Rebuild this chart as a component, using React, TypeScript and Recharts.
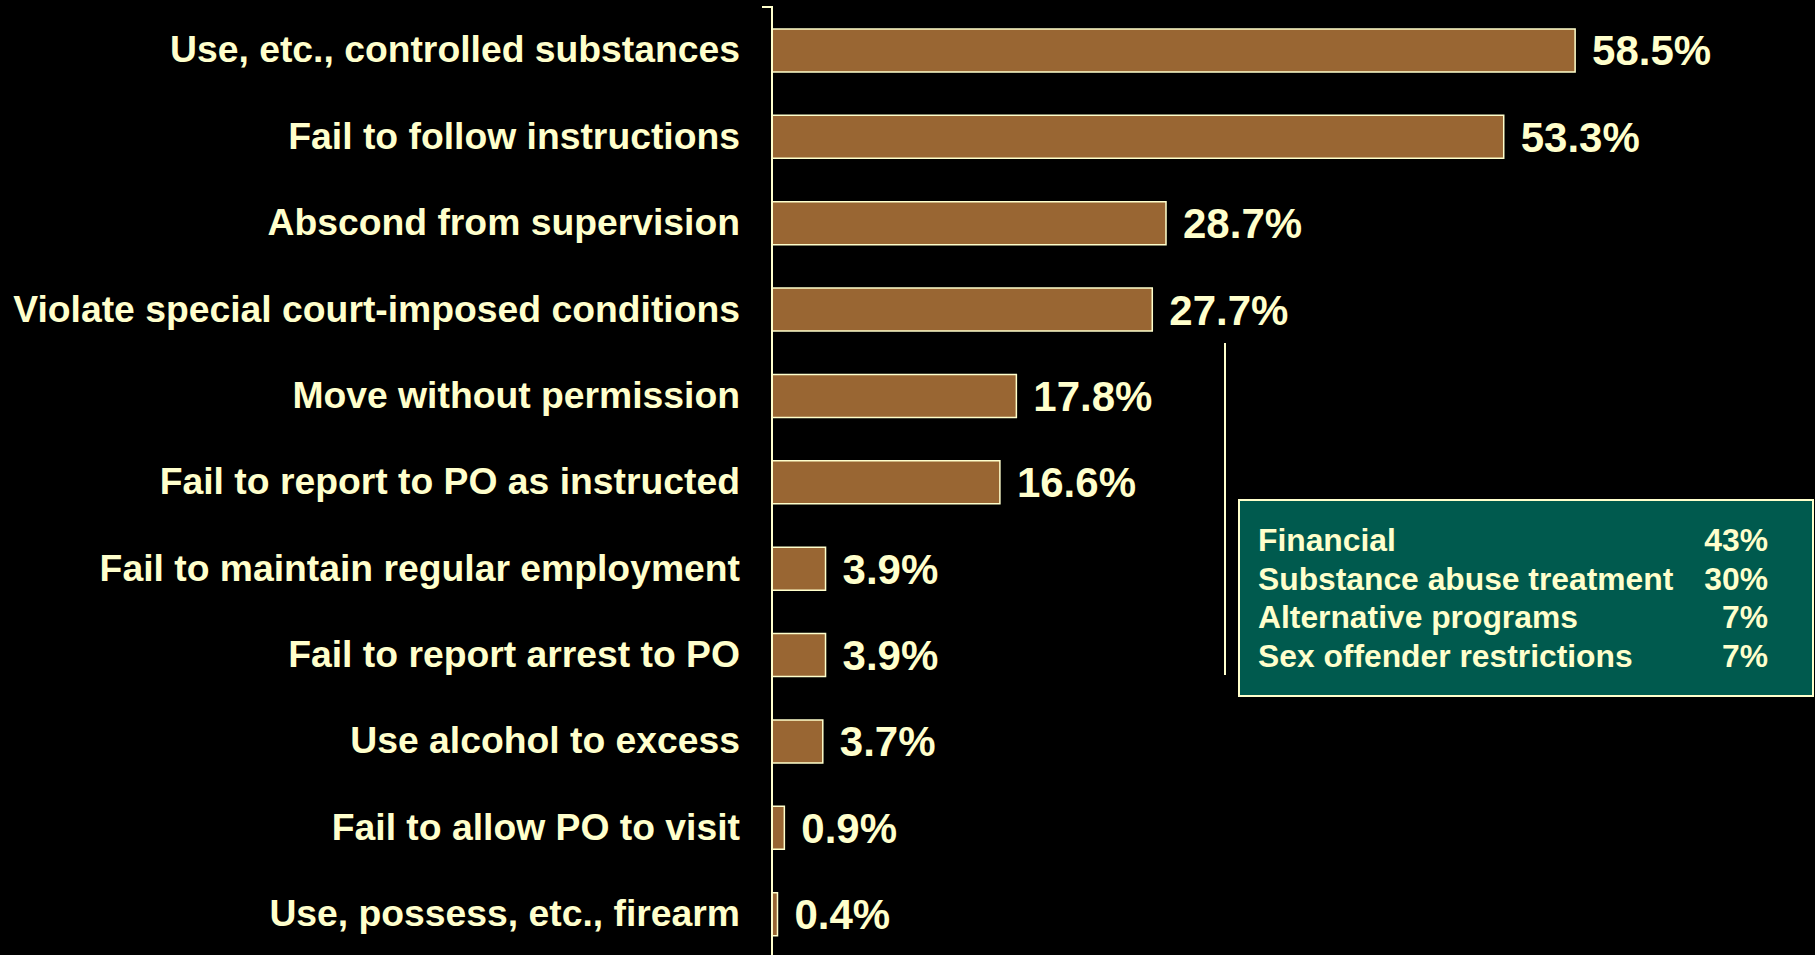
import React from "react";
import { BarChart, Bar, XAxis, YAxis, LabelList } from "recharts";

// Violation categories, top to bottom
const categories = [
  "Use, etc., controlled substances",
  "Fail to follow instructions",
  "Abscond from supervision",
  "Violate special court-imposed conditions",
  "Move without permission",
  "Fail to report to PO as instructed",
  "Fail to maintain regular employment",
  "Fail to report arrest to PO",
  "Use alcohol to excess",
  "Fail to allow PO to visit",
  "Use, possess, etc., firearm",
];
const percents = [58.5, 53.3, 28.7, 27.7, 17.8, 16.6, 3.9, 3.9, 3.7, 0.9, 0.4];

// Breakdown of special court-imposed conditions (callout box)
const specialNames = [
  "Financial",
  "Substance abuse treatment",
  "Alternative programs",
  "Sex offender restrictions",
];
const specialValues = ["43%", "30%", "7%", "7%"];

const CREAM = "#FFFFCC";
const BROWN = "#996633";
const TEAL = "#005A4E";
const FONT = "'Liberation Sans', Arial, sans-serif";

const data = categories.map((name, i) => ({ name, value: percents[i] }));

export default function App() {
  return (
    <div
      style={{
        position: "fixed",
        top: 0,
        left: 0,
        width: 1815,
        height: 955,
        overflow: "hidden",
        background: "#000",
        fontFamily: FONT,
      }}
    >
      <BarChart
        width={1815}
        height={957}
        data={data}
        layout="vertical"
        margin={{ top: 7, right: 82, left: 0, bottom: 0 }}
      >
        <XAxis type="number" domain={[0, 70]} hide />
        <YAxis
          type="category"
          dataKey="name"
          width={772}
          axisLine={{ stroke: CREAM, strokeWidth: 2 }}
          tickLine={false}
          tickSize={6}
          tickMargin={26}
          tick={{ fill: CREAM, fontSize: 37.3, fontWeight: 700, fontFamily: FONT, dy: -1 }}
          interval={0}
        />
        <Bar
          dataKey="value"
          fill={BROWN}
          stroke={CREAM}
          strokeWidth={1.5}
          barSize={43}
          isAnimationActive={false}
        >
          <LabelList
            dataKey="value"
            position="right"
            offset={17}
            formatter={(v: number) => `${v.toFixed(1)}%`}
            style={{ fill: CREAM, fontSize: 42, fontWeight: 700, fontFamily: FONT }}
          />
        </Bar>
      </BarChart>

      {/* small cap tick at the top of the axis */}
      <div style={{ position: "absolute", left: 762, top: 6, width: 11, height: 2, background: CREAM }} />

      {/* bracket line next to the callout */}
      <div style={{ position: "absolute", left: 1224, top: 343, width: 2, height: 332, background: CREAM }} />

      {/* callout box */}
      <div
        style={{
          position: "absolute",
          left: 1238,
          top: 499,
          width: 576,
          height: 198,
          boxSizing: "border-box",
          background: TEAL,
          border: `2px solid ${CREAM}`,
          padding: "20px 0 0 18px",
        }}
      >
        {specialNames.map((n, i) => (
          <div
            key={n}
            style={{
              display: "flex",
              width: 510,
              justifyContent: "space-between",
              color: CREAM,
              fontSize: 31.8,
              fontWeight: 700,
              lineHeight: "38.5px",
            }}
          >
            <span>{n}</span>
            <span>{specialValues[i]}</span>
          </div>
        ))}
      </div>
    </div>
  );
}
